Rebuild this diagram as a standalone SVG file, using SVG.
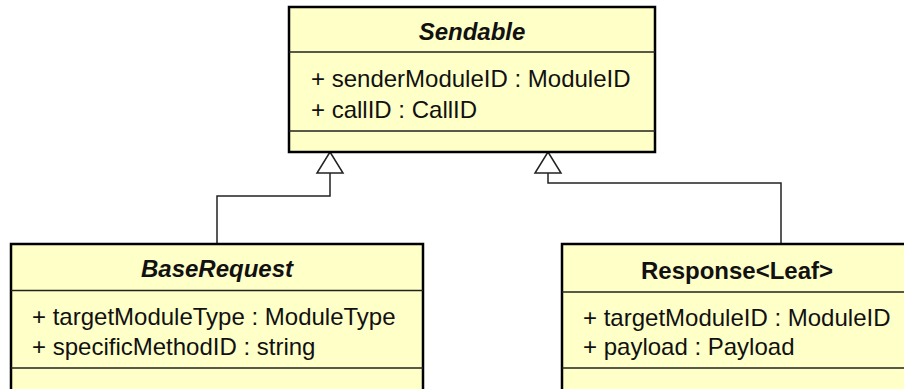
<svg xmlns="http://www.w3.org/2000/svg" width="904" height="389" viewBox="0 0 904 389">
  <style>
    .box { fill: #FFFFC8; stroke: #000; stroke-width: 2.5; }
    .sep { stroke: #222; stroke-width: 1.5; fill: none; }
    .title { font-family: "Liberation Sans", Arial, sans-serif; font-size: 24px; font-weight: bold; fill: #111; text-anchor: middle; }
    .abstract { font-style: italic; }
    .attr { font-family: "Liberation Sans", Arial, sans-serif; font-size: 24px; fill: #111; }
    .edge { stroke: #222; stroke-width: 1.5; fill: none; }
    .head { fill: #fff; stroke: #222; stroke-width: 1.5; stroke-linejoin: miter; }
  </style>
  <rect width="904" height="389" fill="#fff"/>

  <!-- generalization connectors -->
  <g id="connectors">
    <polyline class="edge" points="330,173 330,196 217,196 217,244"/>
    <polygon class="head" points="330,152 343,173 317,173"/>
    <polyline class="edge" points="548,173 548,183 781,183 781,244"/>
    <polygon class="head" points="548,152 561,173 535,173"/>
  </g>

  <!-- abstract class Sendable -->
  <g id="sendable">
    <rect class="box" x="289" y="7" width="366" height="145"/>
    <line class="sep" x1="289" y1="52" x2="655" y2="52"/>
    <line class="sep" x1="289" y1="131" x2="655" y2="131"/>
    <text class="title abstract" x="472" y="40">Sendable</text>
    <text class="attr" x="311" y="87">+ senderModuleID : ModuleID</text>
    <text class="attr" x="311" y="118">+ callID : CallID</text>
  </g>

  <!-- abstract class BaseRequest -->
  <g id="baseRequest">
    <rect class="box" x="11" y="244" width="412" height="150"/>
    <line class="sep" x1="11" y1="290.5" x2="423" y2="290.5"/>
    <line class="sep" x1="11" y1="368" x2="423" y2="368"/>
    <text class="title abstract" x="217" y="277">BaseRequest</text>
    <text class="attr" x="32" y="325">+ targetModuleType : ModuleType</text>
    <text class="attr" x="32" y="355">+ specificMethodID : string</text>
  </g>

  <!-- class Response<Leaf> -->
  <g id="response">
    <rect class="box" x="562" y="244" width="360" height="150"/>
    <line class="sep" x1="562" y1="292" x2="922" y2="292"/>
    <line class="sep" x1="562" y1="368" x2="922" y2="368"/>
    <text class="title" x="737" y="279">Response&lt;Leaf&gt;</text>
    <text class="attr" x="583" y="326">+ targetModuleID : ModuleID</text>
    <text class="attr" x="583" y="355">+ payload : Payload</text>
  </g>
</svg>
